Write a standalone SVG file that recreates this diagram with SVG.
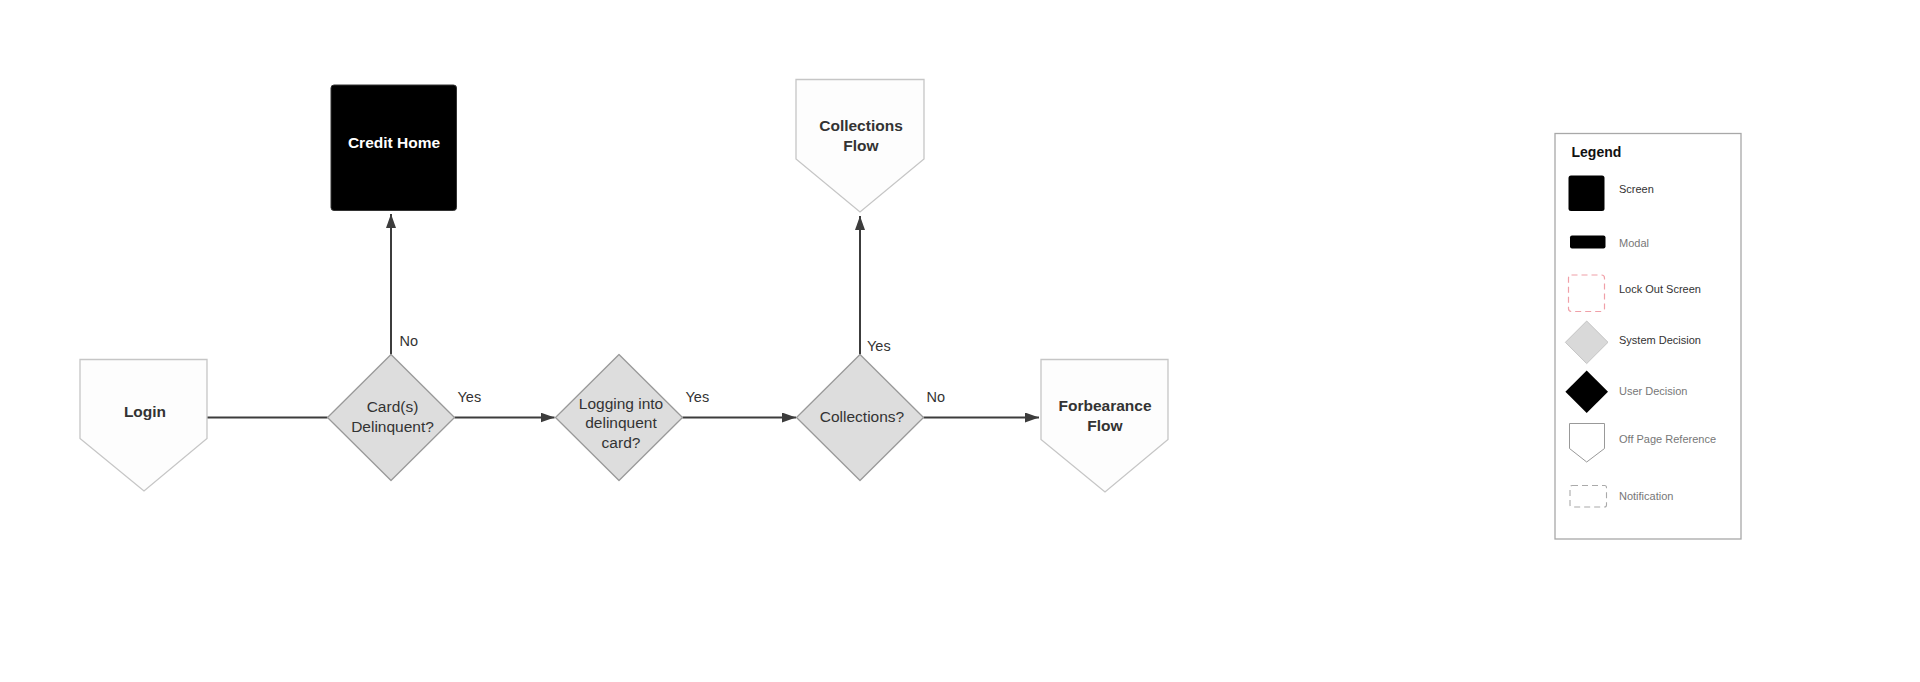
<svg xmlns="http://www.w3.org/2000/svg" width="1920" height="682" viewBox="0 0 1920 682">
<defs>
<marker id="arrow" markerUnits="userSpaceOnUse" markerWidth="14" markerHeight="10" refX="14" refY="5" orient="auto">
<path d="M0,0 L14,5 L0,10 Z" fill="#3c3c3c"/>
</marker>
<style>
.offpage{fill:#fdfdfd;stroke:#c6c6c6;stroke-width:1.3}
.sysdec{fill:#dddddd;stroke:#9a9a9a;stroke-width:1.3;stroke-linejoin:round}
.screen{fill:#000000;stroke:#333;stroke-width:1}
.t{font-family:"Liberation Sans",Arial,sans-serif;font-size:15.5px;fill:#333;text-anchor:middle}
.tb{font-family:"Liberation Sans",Arial,sans-serif;font-size:15.5px;font-weight:bold;fill:#333;text-anchor:middle}
.lbl{font-family:"Liberation Sans",Arial,sans-serif;font-size:14.5px;fill:#333}
.conn{stroke:#3c3c3c;stroke-width:2;fill:none}
.lg{font-family:"Liberation Sans",Arial,sans-serif;font-size:11px;fill:#333}
.lgg{font-family:"Liberation Sans",Arial,sans-serif;font-size:11px;fill:#777}
</style>
</defs>
<rect width="1920" height="682" fill="#ffffff"/>

<g id="connectors">
<line class="conn" x1="207" y1="417.5" x2="327.5" y2="417.5"/>
<line class="conn" x1="454.5" y1="417.5" x2="554.5" y2="417.5" marker-end="url(#arrow)"/>
<line class="conn" x1="682.5" y1="417.5" x2="796" y2="417.5" marker-end="url(#arrow)"/>
<line class="conn" x1="923.5" y1="417.5" x2="1039" y2="417.5" marker-end="url(#arrow)"/>
<line class="conn" x1="391" y1="354.5" x2="391" y2="214" marker-end="url(#arrow)"/>
<line class="conn" x1="860" y1="354.5" x2="860" y2="216" marker-end="url(#arrow)"/>
<text class="lbl" x="399.5" y="346">No</text>
<text class="lbl" x="457.5" y="401.5">Yes</text>
<text class="lbl" x="685.5" y="401.5">Yes</text>
<text class="lbl" x="867" y="351">Yes</text>
<text class="lbl" x="926.5" y="401.5">No</text>
</g>

<g id="login">
<path class="offpage" d="M80,359.5 H207 V438.5 L144,491 L80,438.5 Z"/>
<text class="tb" x="145" y="417">Login</text>
</g>

<g id="card-delinquent">
<polygon class="sysdec" points="391,354.5 454.5,417.5 391,480.5 327.5,417.5"/>
<text class="t" x="392.5" y="411.5">Card(s)</text>
<text class="t" x="392.5" y="431.5">Delinquent?</text>
</g>

<g id="credit-home">
<rect class="screen" x="331" y="85" width="125.5" height="125.5" rx="3"/>
<text class="tb" x="394" y="147.5" style="fill:#ffffff">Credit Home</text>
</g>

<g id="logging-into">
<polygon class="sysdec" points="619,354.5 682.5,417.5 619,480.5 555.5,417.5"/>
<text class="t" x="621" y="408.5">Logging into</text>
<text class="t" x="621" y="428">delinquent</text>
<text class="t" x="621" y="447.5">card?</text>
</g>

<g id="collections">
<polygon class="sysdec" points="860,354.5 923.5,417.5 860,480.5 796.5,417.5"/>
<text class="t" x="862" y="421.5">Collections?</text>
</g>

<g id="collections-flow">
<path class="offpage" d="M796,79.5 H924 V159 L860,212 L796,159 Z"/>
<text class="tb" x="861" y="131">Collections</text>
<text class="tb" x="861" y="151">Flow</text>
</g>

<g id="forbearance-flow">
<path class="offpage" d="M1041,359.5 H1168 V439.5 L1105,492 L1041,439.5 Z"/>
<text class="tb" x="1105" y="411">Forbearance</text>
<text class="tb" x="1105" y="431">Flow</text>
</g>

<g id="legend">
<rect x="1555" y="133.5" width="186" height="405.5" fill="#ffffff" stroke="#a8a8a8" stroke-width="1.3"/>
<text x="1571.5" y="157" style="font-family:'Liberation Sans',Arial,sans-serif;font-size:14px;font-weight:bold;fill:#111">Legend</text>
<rect x="1568.5" y="175.5" width="36" height="35.5" rx="2.5" fill="#000"/>
<text class="lg" x="1619" y="193">Screen</text>
<rect x="1570" y="235.5" width="35.5" height="13" rx="2" fill="#000"/>
<text class="lgg" x="1619" y="247">Modal</text>
<rect x="1568.5" y="275" width="36" height="36.5" rx="3" fill="none" stroke="#f0a0a8" stroke-width="1.2" stroke-dasharray="6,4"/>
<text class="lg" x="1619" y="293">Lock Out Screen</text>
<polygon points="1586.7,321 1608,342.3 1586.7,363.6 1565.4,342.3" fill="#d9d9d9" stroke="#c4c4c4" stroke-width="1"/>
<text class="lg" x="1619" y="344">System Decision</text>
<polygon points="1586.7,370.5 1608,391.7 1586.7,413 1565.4,391.7" fill="#000"/>
<text class="lgg" x="1619" y="395">User Decision</text>
<path d="M1569.5,423.5 H1604.5 V448.5 L1586.7,462 L1569.5,448.5 Z" fill="#fff" stroke="#999" stroke-width="1"/>
<text class="lgg" x="1619" y="442.5">Off Page Reference</text>
<rect x="1570" y="485.5" width="36.5" height="21.5" rx="2" fill="none" stroke="#aaaaaa" stroke-width="1.1" stroke-dasharray="6,4"/>
<text class="lgg" x="1619" y="500">Notification</text>
</g>
</svg>
